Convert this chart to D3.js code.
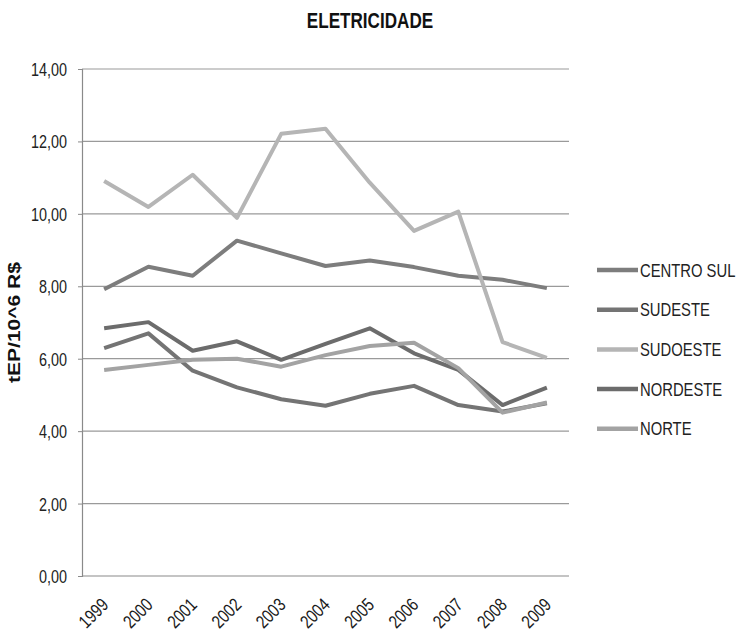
<!DOCTYPE html>
<html>
<head>
<meta charset="utf-8">
<script src="https://cdn.jsdelivr.net/npm/d3@7"></script>
<style>
  body { margin: 0; background: #fff; }
  svg { display: block; }
  text { font-family: "Liberation Sans", Arial, sans-serif; }
</style>
</head>
<body>
<svg id="chart" width="740" height="638"></svg>
<script>
// Energy intensity of electricity by region, 1999–2009
const years = ["1999","2000","2001","2002","2003","2004","2005","2006","2007","2008","2009"];
const seriesNames = ["CENTRO SUL", "SUDESTE", "SUDOESTE", "NORDESTE", "NORTE"];
const centroSul = [7.92, 8.54, 8.29, 9.26, 8.91, 8.56, 8.71, 8.53, 8.29, 8.18, 7.95];
const sudeste   = [6.29, 6.70, 5.67, 5.21, 4.88, 4.70, 5.03, 5.25, 4.72, 4.54, 4.77];
const sudoeste  = [10.91, 10.19, 11.08, 9.89, 12.21, 12.35, 10.86, 9.53, 10.06, 6.46, 6.02];
const nordeste  = [6.84, 7.01, 6.22, 6.48, 5.97, 6.41, 6.84, 6.15, 5.69, 4.72, 5.20];
const norte     = [5.69, 5.83, 5.97, 6.00, 5.78, 6.10, 6.35, 6.44, 5.74, 4.51, 4.79];
const yTicks = [0, 2, 4, 6, 8, 10, 12, 14];
const colors = ["#7d7d7d", "#747474", "#b5b5b5", "#6c6c6c", "#a3a3a3"];

const seriesValues = [centroSul, sudeste, sudoeste, nordeste, norte];
const series = seriesNames.map((name, i) => ({ name, values: seriesValues[i], color: colors[i] }));

// horizontal squeeze that gives the regular sans a condensed look
const NARROW = 0.8;

const svg = d3.select("#chart");
const margin = { left: 82, right: 171, top: 69, bottom: 62 };
const W = 740, H = 638;

const x = d3.scalePoint().domain(years).range([margin.left, W - margin.right]).padding(0.5);
const y = d3.scaleLinear().domain([0, 14]).range([H - margin.bottom, margin.top]);

// horizontal gridlines
svg.append("g")
  .selectAll("line")
  .data(yTicks.filter(t => t > 0))
  .join("line")
  .attr("x1", margin.left).attr("x2", W - margin.right)
  .attr("y1", d => y(d)).attr("y2", d => y(d))
  .attr("stroke", "#9a9a9a").attr("stroke-width", 1.2);

// y axis
const yAxis = svg.append("g")
  .attr("transform", `translate(${margin.left},0)`)
  .call(d3.axisLeft(y).tickValues(yTicks).tickSize(4)
    .tickFormat(d => d3.format(".2f")(d).replace(".", ",")));
yAxis.select(".domain").attr("stroke", "#8a8a8a").attr("stroke-width", 1.2);
yAxis.selectAll(".tick line").attr("stroke", "#8a8a8a");
yAxis.selectAll("text")
  .attr("font-size", 18)
  .attr("fill", "#222")
  .attr("x", -15 / NARROW)
  .attr("dy", "0.36em")
  .attr("transform", `scale(${NARROW},1)`);

// x axis
const xAxis = svg.append("g")
  .attr("transform", `translate(0,${y(0)})`)
  .call(d3.axisBottom(x).tickSize(0).tickPadding(0));
xAxis.select(".domain")
  .attr("d", `M${margin.left},0H${W - margin.right}`)
  .attr("stroke", "#8a8a8a").attr("stroke-width", 1.2);
xAxis.selectAll("text")
  .attr("font-size", 18.5)
  .attr("fill", "#1a1a1a")
  .attr("text-anchor", "end")
  .attr("y", 0)
  .attr("dy", 0)
  .attr("transform", `translate(5,30) rotate(-45) scale(${NARROW},1)`);

// lines
const line = d3.line()
  .x((d, i) => x(years[i]))
  .y(d => y(d));

svg.append("g")
  .selectAll("path")
  .data(series)
  .join("path")
  .attr("d", d => line(d.values))
  .attr("fill", "none")
  .attr("stroke", d => d.color)
  .attr("stroke-width", 4)
  .attr("stroke-linejoin", "round");

// legend
const legend = svg.append("g").attr("transform", "translate(597,270)");
const rows = legend.selectAll("g")
  .data(series)
  .join("g")
  .attr("transform", (d, i) => `translate(0,${i * 39.7})`);
rows.append("line")
  .attr("x1", 0).attr("x2", 41)
  .attr("stroke", d => d.color)
  .attr("stroke-width", 4.5);
rows.append("text")
  .attr("transform", `translate(43,0) scale(${NARROW},1)`)
  .attr("dy", "0.36em")
  .attr("font-size", 18.5)
  .attr("fill", "#222")
  .text(d => d.name);

// title
svg.append("text")
  .attr("transform", "translate(370,28) scale(0.76,1)")
  .attr("text-anchor", "middle")
  .attr("font-size", 22.5)
  .attr("font-weight", "bold")
  .attr("fill", "#111")
  .text("ELETRICIDADE");

// y axis title
svg.append("text")
  .attr("transform", `translate(20,${(margin.top + H - margin.bottom) / 2}) rotate(-90)`)
  .attr("text-anchor", "middle")
  .attr("font-size", 17)
  .attr("font-weight", "bold")
  .attr("fill", "#111")
  .attr("textLength", 121)
  .attr("lengthAdjust", "spacingAndGlyphs")
  .text("tEP/10^6 R$");
</script>
</body>
</html>
